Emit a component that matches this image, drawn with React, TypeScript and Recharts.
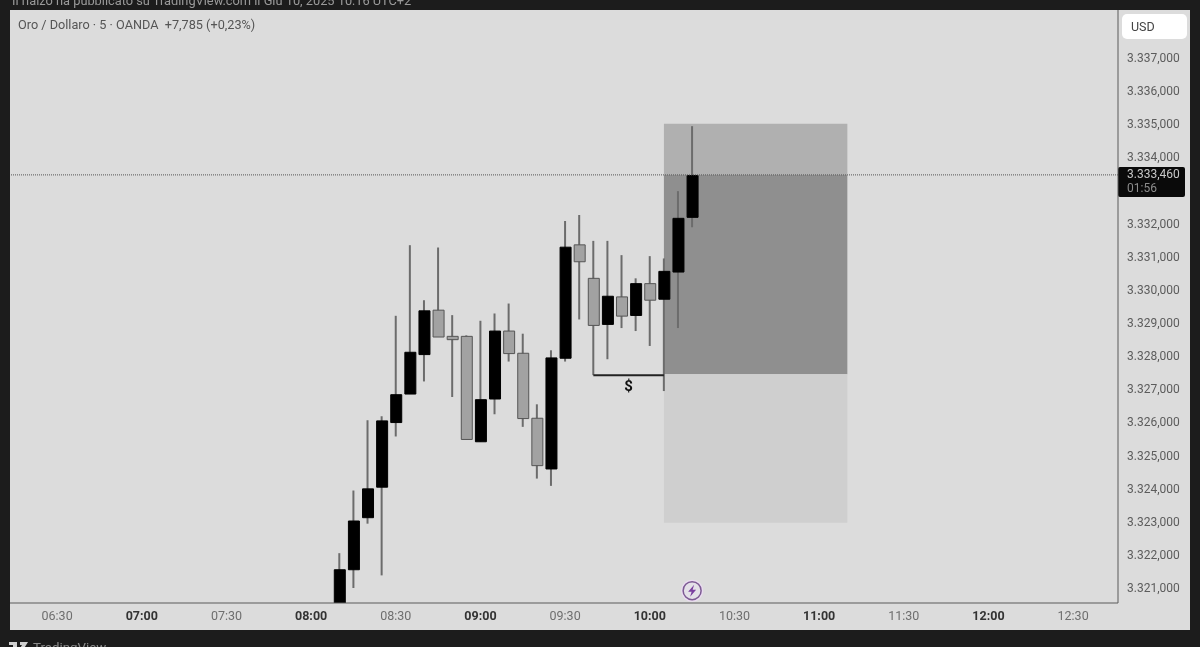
import React from "react";
import {Bar, Cell, ComposedChart, Label, ReferenceArea, ReferenceDot, ReferenceLine, XAxis, YAxis} from "recharts";

// minutes since midnight, one candle every 5 minutes from 08:10 to 10:15
const times = [490, 495, 500, 505, 510, 515, 520, 525, 530, 535, 540, 545, 550, 555, 560, 565, 570, 575, 580, 585, 590, 595, 600, 605, 610, 615];
const opens = [3320.2, 3321.55, 3323.12, 3324.04, 3325.99, 3326.85, 3328.04, 3329.38, 3328.59, 3328.59, 3325.41, 3326.7, 3328.75, 3328.08, 3326.12, 3324.59, 3327.93, 3331.35, 3330.34, 3328.95, 3329.78, 3329.22, 3330.18, 3329.71, 3330.53, 3332.18];
const highs = [3322.05, 3323.94, 3326.06, 3326.18, 3329.21, 3331.34, 3329.68, 3331.27, 3329.23, 3328.62, 3329.06, 3329.28, 3329.58, 3328.67, 3326.54, 3328.17, 3332.07, 3332.25, 3331.47, 3331.47, 3331.04, 3330.34, 3331.01, 3330.94, 3332.97, 3334.93];
const lows = [3320.0, 3321.0, 3322.94, 3321.38, 3325.57, 3326.85, 3327.23, 3328.57, 3326.76, 3325.48, 3325.41, 3326.24, 3327.83, 3325.86, 3324.3, 3324.08, 3327.83, 3329.1, 3327.42, 3327.9, 3328.84, 3328.75, 3328.3, 3326.94, 3328.84, 3331.88];
const closes = [3321.55, 3323.02, 3323.99, 3326.04, 3326.83, 3328.11, 3329.36, 3328.57, 3328.49, 3325.48, 3326.68, 3328.75, 3328.07, 3326.11, 3324.69, 3327.94, 3331.28, 3330.84, 3328.92, 3329.8, 3329.2, 3330.18, 3329.68, 3330.55, 3332.15, 3333.44];

const timeTicks = [390, 420, 450, 480, 510, 540, 570, 600, 630, 660, 690, 720, 750];
const priceTicks = [3321, 3322, 3323, 3324, 3325, 3326, 3327, 3328, 3329, 3330, 3331, 3332, 3334, 3335, 3336, 3337];

const lastPrice = 3333.46;
const stopPrice = 3335;
const entryPrice = 3327.45;
const targetPrice = 3322.97;
const bracketLow = 3327.42;

const data = times.map((time, i) => ({
    time,
    wick: [lows[i], highs[i]],
    body: [Math.min(opens[i], closes[i]), Math.max(opens[i], closes[i])],
    up: closes[i] >= opens[i]
}));

const FONT = "Roboto, sans-serif";

function clock(m: number) {
    const h = String(Math.floor(m / 60)).padStart(2, "0");
    const min = String(m % 60).padStart(2, "0");
    return h + ":" + min;
}

function price(p: number) {
    return "3." + String(Math.round(p)).slice(1) + ",000";
}

function TimeTick({x, y, payload}: any) {
    const onHour = payload.value % 60 === 0;
    return (
        <text x={x} y={y + 9} textAnchor="middle" fontFamily={FONT} fontSize={12.5}
              fontWeight={onHour ? 700 : 400} fill={onHour ? "#333" : "#6e6e6e"}>
            {clock(payload.value)}
        </text>
    );
}

function PriceTag({viewBox}: any) {
    const x = viewBox.x + viewBox.width;
    const y = viewBox.y;
    return (
        <g fontFamily={FONT} fontSize={12}>
            <rect x={x} y={y - 8} width={67} height={30} rx={2} fill="#0a0a0a"/>
            <text x={x + 9} y={y + 3} fill="#c8c8c8">3.333,460</text>
            <text x={x + 9} y={y + 17} fill="#8c8c8c">01:56</text>
        </g>
    );
}

function Bolt({cx, cy}: any) {
    return (
        <g>
            <circle cx={cx} cy={cy} r={11} fill="#eadcf0" stroke="none"/>
            <circle cx={cx} cy={cy} r={9} fill="#e4e0e8" stroke="#7d5a94" strokeWidth={1.5}/>
            <path d={`M${cx + 2} ${cy - 6} L${cx - 4} ${cy + 1} L${cx - 0.5} ${cy + 1} L${cx - 2} ${cy + 6} L${cx + 4} ${cy - 1} L${cx + 0.5} ${cy - 1} Z`} fill="#7b3fa0"/>
        </g>
    );
}

export default function App() {
    return (
        <div style={{position: "absolute", left: 0, top: 0, width: 1200, height: 647, overflow: "hidden", background: "#1c1c1c", fontFamily: FONT, filter: "blur(0.45px)"}}>
            <div style={{position: "absolute", left: 12, top: -7, fontSize: 12.8, color: "#9a9a9a", whiteSpace: "nowrap"}}>
                Il rialzo ha pubblicato su TradingView.com il Giu 10, 2025 10:16 UTC+2
            </div>
            <div style={{position: "absolute", left: 10, top: 10, width: 1180, height: 620, background: "#dcdcdc"}}/>
            <ComposedChart width={1200} height={647} data={data} style={{position: "absolute", left: 0, top: 0}}
                           margin={{top: 10, right: 10, bottom: 17, left: 10}}>
                <XAxis type="number" dataKey="time" domain={[373.3, 765.9]} allowDataOverflow ticks={timeTicks}
                       height={27} interval={0} tick={<TimeTick/>} tickLine={false} stroke="#5a5a5a"/>
                <XAxis xAxisId="wick" type="number" dataKey="time" domain={[373.3, 765.9]} allowDataOverflow hide/>
                <YAxis orientation="right" type="number" width={72} domain={[3320.547, 3338.434]} allowDataOverflow
                       ticks={priceTicks} interval={0} tickFormatter={price} tickLine={false} tickMargin={3}
                       tick={{fontFamily: FONT, fontSize: 12, fill: "#5c5c5c", textAnchor: "start"}} stroke="#5a5a5a"/>
                <ReferenceArea x1={605} x2={670} y1={lastPrice} y2={stopPrice} fill="#b0b0b0" fillOpacity={1} stroke="none"/>
                <ReferenceArea x1={605} x2={670} y1={entryPrice} y2={lastPrice} fill="#8f8f8f" fillOpacity={1} stroke="none"/>
                <ReferenceArea x1={605} x2={670} y1={targetPrice} y2={entryPrice} fill="#cfcfcf" fillOpacity={1} stroke="none"/>
                <Bar xAxisId="wick" dataKey="wick" barSize={2} fill="#6c6c6c" isAnimationActive={false}/>
                <Bar dataKey="body" barSize={11} isAnimationActive={false}>
                    {data.map(d => (
                        <Cell key={d.time} fill={d.up ? "#000000" : "#a2a2a2"} stroke={d.up ? "#000000" : "#555555"}/>
                    ))}
                </Bar>
                <ReferenceLine stroke="#222" strokeWidth={2}
                               segment={[{x: 580, y: bracketLow}, {x: 605, y: bracketLow}]}/>
                <ReferenceDot x={592.5} y={3327.1} r={0} stroke="none" fill="none">
                    <Label value="$" position="center" fontFamily={FONT} fontSize={15} fontWeight={700} fill="#111"/>
                </ReferenceDot>
                <ReferenceDot x={615} y={3320.92} shape={<Bolt/>}/>
                <ReferenceLine y={lastPrice} stroke="#555" strokeDasharray="1 1" label={<PriceTag/>}/>
            </ComposedChart>
            <div style={{position: "absolute", left: 18, top: 17, fontSize: 12.7, color: "#555", whiteSpace: "nowrap"}}>
                Oro / Dollaro &middot; 5 &middot; OANDA&nbsp; +7,785 (+0,23%)
            </div>
            <div style={{position: "absolute", left: 1122, top: 14, width: 65, height: 25, borderRadius: 5, background: "#ffffff", fontSize: 12.5, lineHeight: "25px", color: "#444", textIndent: 9}}>
                USD
            </div>
            <div style={{position: "absolute", left: 33, top: 640, fontSize: 13.3, color: "#8c8c8c"}}>TradingView</div>
            <svg width={20} height={8} style={{position: "absolute", left: 9, top: 642}}>
                <path d="M0 0 H8 V8 H4 V3 H0 Z M11 0 H19 L14 8 H10 L13 3 H11 Z" fill="#d0d0d0"/>
            </svg>
        </div>
    );
}
